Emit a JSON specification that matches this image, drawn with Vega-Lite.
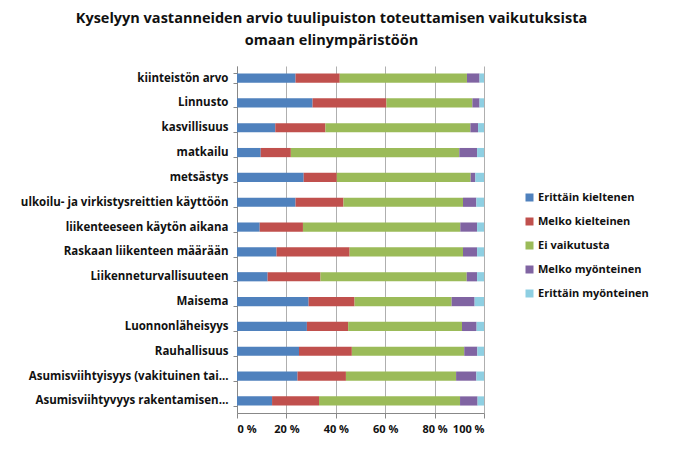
{
  "$schema": "https://vega.github.io/schema/vega-lite/v6.json",
  "autosize": {"type": "none"},
  "width": 247,
  "height": 347,
  "padding": {"left": 237, "top": 66, "right": 189, "bottom": 36},
  "background": "white",
  "title": {
    "text": ["Kyselyyn vastanneiden arvio tuulipuiston toteuttamisen vaikutuksista", "omaan elinympäristöön"],
    "font": "Open Sans",
    "fontSize": 14.5,
    "fontWeight": "bold",
    "color": "#111111",
    "anchor": "middle",
    "frame": "group",
    "dx": -29,
    "offset": 12,
    "lineHeight": 22
  },
  "data": {
    "values": [
      {"kohde": "kiinteistön arvo", "vastaus": "Erittäin kieltenen", "k": 1, "osuus": 23.7},
      {"kohde": "kiinteistön arvo", "vastaus": "Melko kielteinen", "k": 2, "osuus": 17.9},
      {"kohde": "kiinteistön arvo", "vastaus": "Ei vaikutusta", "k": 3, "osuus": 51.5},
      {"kohde": "kiinteistön arvo", "vastaus": "Melko myönteinen", "k": 4, "osuus": 5.1},
      {"kohde": "kiinteistön arvo", "vastaus": "Erittäin myönteinen", "k": 5, "osuus": 1.8},
      {"kohde": "Linnusto", "vastaus": "Erittäin kieltenen", "k": 1, "osuus": 30.6},
      {"kohde": "Linnusto", "vastaus": "Melko kielteinen", "k": 2, "osuus": 29.9},
      {"kohde": "Linnusto", "vastaus": "Ei vaikutusta", "k": 3, "osuus": 34.8},
      {"kohde": "Linnusto", "vastaus": "Melko myönteinen", "k": 4, "osuus": 2.9},
      {"kohde": "Linnusto", "vastaus": "Erittäin myönteinen", "k": 5, "osuus": 1.8},
      {"kohde": "kasvillisuus", "vastaus": "Erittäin kieltenen", "k": 1, "osuus": 15.5},
      {"kohde": "kasvillisuus", "vastaus": "Melko kielteinen", "k": 2, "osuus": 20.3},
      {"kohde": "kasvillisuus", "vastaus": "Ei vaikutusta", "k": 3, "osuus": 58.7},
      {"kohde": "kasvillisuus", "vastaus": "Melko myönteinen", "k": 4, "osuus": 3.1},
      {"kohde": "kasvillisuus", "vastaus": "Erittäin myönteinen", "k": 5, "osuus": 2.4},
      {"kohde": "matkailu", "vastaus": "Erittäin kieltenen", "k": 1, "osuus": 9.6},
      {"kohde": "matkailu", "vastaus": "Melko kielteinen", "k": 2, "osuus": 12.2},
      {"kohde": "matkailu", "vastaus": "Ei vaikutusta", "k": 3, "osuus": 68.2},
      {"kohde": "matkailu", "vastaus": "Melko myönteinen", "k": 4, "osuus": 7.2},
      {"kohde": "matkailu", "vastaus": "Erittäin myönteinen", "k": 5, "osuus": 2.8},
      {"kohde": "metsästys", "vastaus": "Erittäin kieltenen", "k": 1, "osuus": 27.0},
      {"kohde": "metsästys", "vastaus": "Melko kielteinen", "k": 2, "osuus": 13.4},
      {"kohde": "metsästys", "vastaus": "Ei vaikutusta", "k": 3, "osuus": 54.2},
      {"kohde": "metsästys", "vastaus": "Melko myönteinen", "k": 4, "osuus": 1.9},
      {"kohde": "metsästys", "vastaus": "Erittäin myönteinen", "k": 5, "osuus": 3.5},
      {"kohde": "ulkoilu- ja virkistysreittien käyttöön", "vastaus": "Erittäin kieltenen", "k": 1, "osuus": 23.7},
      {"kohde": "ulkoilu- ja virkistysreittien käyttöön", "vastaus": "Melko kielteinen", "k": 2, "osuus": 19.4},
      {"kohde": "ulkoilu- ja virkistysreittien käyttöön", "vastaus": "Ei vaikutusta", "k": 3, "osuus": 48.4},
      {"kohde": "ulkoilu- ja virkistysreittien käyttöön", "vastaus": "Melko myönteinen", "k": 4, "osuus": 5.4},
      {"kohde": "ulkoilu- ja virkistysreittien käyttöön", "vastaus": "Erittäin myönteinen", "k": 5, "osuus": 3.1},
      {"kohde": "liikenteeseen käytön aikana", "vastaus": "Erittäin kieltenen", "k": 1, "osuus": 9.2},
      {"kohde": "liikenteeseen käytön aikana", "vastaus": "Melko kielteinen", "k": 2, "osuus": 17.5},
      {"kohde": "liikenteeseen käytön aikana", "vastaus": "Ei vaikutusta", "k": 3, "osuus": 63.7},
      {"kohde": "liikenteeseen käytön aikana", "vastaus": "Melko myönteinen", "k": 4, "osuus": 6.8},
      {"kohde": "liikenteeseen käytön aikana", "vastaus": "Erittäin myönteinen", "k": 5, "osuus": 2.8},
      {"kohde": "Raskaan liikenteen määrään", "vastaus": "Erittäin kieltenen", "k": 1, "osuus": 16.0},
      {"kohde": "Raskaan liikenteen määrään", "vastaus": "Melko kielteinen", "k": 2, "osuus": 29.6},
      {"kohde": "Raskaan liikenteen määrään", "vastaus": "Ei vaikutusta", "k": 3, "osuus": 45.9},
      {"kohde": "Raskaan liikenteen määrään", "vastaus": "Melko myönteinen", "k": 4, "osuus": 5.7},
      {"kohde": "Raskaan liikenteen määrään", "vastaus": "Erittäin myönteinen", "k": 5, "osuus": 2.8},
      {"kohde": "Liikenneturvallisuuteen", "vastaus": "Erittäin kieltenen", "k": 1, "osuus": 12.4},
      {"kohde": "Liikenneturvallisuuteen", "vastaus": "Melko kielteinen", "k": 2, "osuus": 21.4},
      {"kohde": "Liikenneturvallisuuteen", "vastaus": "Ei vaikutusta", "k": 3, "osuus": 59.2},
      {"kohde": "Liikenneturvallisuuteen", "vastaus": "Melko myönteinen", "k": 4, "osuus": 4.2},
      {"kohde": "Liikenneturvallisuuteen", "vastaus": "Erittäin myönteinen", "k": 5, "osuus": 2.8},
      {"kohde": "Maisema", "vastaus": "Erittäin kieltenen", "k": 1, "osuus": 29.0},
      {"kohde": "Maisema", "vastaus": "Melko kielteinen", "k": 2, "osuus": 18.6},
      {"kohde": "Maisema", "vastaus": "Ei vaikutusta", "k": 3, "osuus": 39.3},
      {"kohde": "Maisema", "vastaus": "Melko myönteinen", "k": 4, "osuus": 9.3},
      {"kohde": "Maisema", "vastaus": "Erittäin myönteinen", "k": 5, "osuus": 3.8},
      {"kohde": "Luonnonläheisyys", "vastaus": "Erittäin kieltenen", "k": 1, "osuus": 28.3},
      {"kohde": "Luonnonläheisyys", "vastaus": "Melko kielteinen", "k": 2, "osuus": 16.7},
      {"kohde": "Luonnonläheisyys", "vastaus": "Ei vaikutusta", "k": 3, "osuus": 46.1},
      {"kohde": "Luonnonläheisyys", "vastaus": "Melko myönteinen", "k": 4, "osuus": 5.9},
      {"kohde": "Luonnonläheisyys", "vastaus": "Erittäin myönteinen", "k": 5, "osuus": 3.0},
      {"kohde": "Rauhallisuus", "vastaus": "Erittäin kieltenen", "k": 1, "osuus": 25.1},
      {"kohde": "Rauhallisuus", "vastaus": "Melko kielteinen", "k": 2, "osuus": 21.4},
      {"kohde": "Rauhallisuus", "vastaus": "Ei vaikutusta", "k": 3, "osuus": 45.5},
      {"kohde": "Rauhallisuus", "vastaus": "Melko myönteinen", "k": 4, "osuus": 5.3},
      {"kohde": "Rauhallisuus", "vastaus": "Erittäin myönteinen", "k": 5, "osuus": 2.7},
      {"kohde": "Asumisviihtyisyys (vakituinen tai...", "vastaus": "Erittäin kieltenen", "k": 1, "osuus": 24.5},
      {"kohde": "Asumisviihtyisyys (vakituinen tai...", "vastaus": "Melko kielteinen", "k": 2, "osuus": 19.6},
      {"kohde": "Asumisviihtyisyys (vakituinen tai...", "vastaus": "Ei vaikutusta", "k": 3, "osuus": 44.6},
      {"kohde": "Asumisviihtyisyys (vakituinen tai...", "vastaus": "Melko myönteinen", "k": 4, "osuus": 8.2},
      {"kohde": "Asumisviihtyisyys (vakituinen tai...", "vastaus": "Erittäin myönteinen", "k": 5, "osuus": 3.1},
      {"kohde": "Asumisviihtyvyys rakentamisen...", "vastaus": "Erittäin kieltenen", "k": 1, "osuus": 14.2},
      {"kohde": "Asumisviihtyvyys rakentamisen...", "vastaus": "Melko kielteinen", "k": 2, "osuus": 19.0},
      {"kohde": "Asumisviihtyvyys rakentamisen...", "vastaus": "Ei vaikutusta", "k": 3, "osuus": 57.1},
      {"kohde": "Asumisviihtyvyys rakentamisen...", "vastaus": "Melko myönteinen", "k": 4, "osuus": 7.1},
      {"kohde": "Asumisviihtyvyys rakentamisen...", "vastaus": "Erittäin myönteinen", "k": 5, "osuus": 2.6}
    ]
  },
  "mark": {"type": "bar"},
  "encoding": {
    "y": {
      "field": "kohde",
      "type": "nominal",
      "sort": null,
      "scale": {"paddingInner": 0.63, "paddingOuter": 0.3},
      "axis": {
        "title": null,
        "labelFont": "Open Sans",
        "labelFontSize": 11.5,
        "labelFontWeight": "bold",
        "labelColor": "#111111",
        "labelLimit": 300,
        "labelPadding": 5,
        "tickBand": "extent",
        "tickSize": 4,
        "tickColor": "#888888",
        "domainColor": "#888888",
        "grid": false
      }
    },
    "x": {
      "field": "osuus",
      "type": "quantitative",
      "stack": "normalize",
      "scale": {"domain": [0, 1], "nice": false},
      "axis": {
        "title": null,
        "values": [0, 0.2, 0.4, 0.6, 0.8, 1],
        "labelExpr": "format(datum.value * 100, 'd') + ' %'",
        "labelFont": "Open Sans",
        "labelFontSize": 11,
        "labelFontWeight": "bold",
        "labelColor": "#111111",
        "labelPadding": 5,
        "tickSize": 5,
        "tickColor": "#888888",
        "domainColor": "#888888",
        "grid": true,
        "gridColor": "#9a9a9a",
        "gridWidth": 0.8
      }
    },
    "color": {
      "field": "vastaus",
      "type": "nominal",
      "scale": {
        "domain": ["Erittäin kieltenen", "Melko kielteinen", "Ei vaikutusta", "Melko myönteinen", "Erittäin myönteinen"],
        "range": ["#4F81BD", "#C0504D", "#9BBB59", "#8064A2", "#8ECFE2"]
      },
      "legend": {
        "title": null,
        "orient": "none",
        "legendX": 287,
        "legendY": 126,
        "symbolType": "square",
        "symbolSize": 64,
        "symbolStrokeWidth": 0,
        "labelFont": "Open Sans",
        "labelFontSize": 11,
        "labelFontWeight": "bold",
        "labelColor": "#111111",
        "labelOffset": 3,
        "rowPadding": 12,
        "labelLimit": 200
      }
    },
    "order": {"field": "k", "type": "quantitative"}
  },
  "config": {
    "view": {"stroke": null}
  }
}
